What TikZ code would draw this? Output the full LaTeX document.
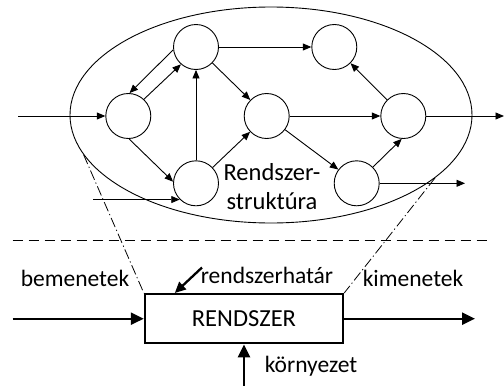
\documentclass[tikz,border=0pt]{standalone}
\usepackage{fontspec}
\setmainfont{Carlito}
\usetikzlibrary{shapes.geometric,arrows.meta,calc}
\tikzset{
  crc/.style={circle,draw,line width=0.9pt,minimum size=45pt,inner sep=0pt},
  thin arrow/.style={line width=0.9pt,-{Triangle[length=8.5pt,width=7pt]}},
  thick arrow/.style={line width=2.3pt,-{Triangle[length=13pt,width=12pt]}},
  lbl/.style={font=\fontsize{23.5}{30}\selectfont,inner sep=0pt,text=black},
  dashdot/.style={line width=0.8pt,dash pattern=on 10pt off 3pt on 1.2pt off 3pt},
}
\begin{document}
\begin{tikzpicture}[x=1pt,y=-1pt]
\useasboundingbox (0,0) rectangle (504,386);
% system structure
\node[ellipse,draw,line width=0.9pt,minimum width=402pt,minimum height=216pt,inner sep=0pt] (ell) at (271,115) {};
\node[crc] (A) at (128.3,116) {};
\node[crc] (B) at (196,47) {};
\node[crc] (C) at (196,183.3) {};
\node[crc] (D) at (266.7,116) {};
\node[crc] (E) at (334.3,47) {};
\node[crc] (F) at (403.3,116) {};
\node[crc] (G) at (356.7,183.3) {};
\node[lbl,align=center,font=\fontsize{24.5}{29}\selectfont] (struct) at (272,187) {Rendszer-\\struktúra};
\coordinate (in0) at (18,116);
\coordinate (out0) at (504,116);
\coordinate (cin) at (93,200);
\coordinate (gout) at (465,184);
\draw[thin arrow] (in0) -- (A.west);
\draw[thin arrow] (F.east) -- (out0);
\draw[thin arrow] (cin |- C.225) -- (C.225);
\draw[thin arrow] (G.east) -- (gout |- G.east);
\draw[thin arrow] (B.187) -- (A.87);
\draw[thin arrow] (A.47) -- (B.229);
\draw[thin arrow] (A.272.6) -- (C.176);
\draw[thin arrow] (C) -- (B);
\draw[thin arrow] (C) -- (D);
\draw[thin arrow] (B) -- (D);
\draw[thin arrow] (B.east) -- (E.west);
\draw[thin arrow] (D.east) -- (F.west);
\draw[thin arrow] (D) -- (G);
\draw[thin arrow] (G.45) -- (F.266);
\draw[thin arrow] (F) -- (E);
% boundary line
\coordinate (dl) at (12.7,240.7);
\coordinate (dr) at (492,240.7);
\draw[line width=0.8pt,dash pattern=on 10pt off 6pt] (dl) -- (dr);
% system box
\node[draw,line width=2.4pt,minimum width=198pt,minimum height=49pt,inner sep=0pt,font=\fontsize{24.5}{30}\selectfont,text=black] (box) at (244,318.7) {RENDSZER};
\draw[dashdot] (ell.192.8) -- (box.north west);
\draw[dashdot] (ell.339.5) -- (box.north east);
\coordinate (inL) at (12.7,318.7);
\coordinate (outR) at (475,318.7);
\coordinate (env) at (244,386);
\coordinate (rh) at (202,267.5);
\draw[thick arrow] (inL) -- (box.west);
\draw[thick arrow] (box.east) -- (outR);
\draw[thick arrow] (env) -- (box.south);
\draw[line width=2.3pt,-{Triangle[length=11pt,width=10pt]}] (rh) -- ([xshift=31pt]box.north west);
\node[lbl] (bem) at (75,278) {bemenetek};
\node[lbl] (rhat) at (267,275) {rendszerhatár};
\node[lbl] (kim) at (413,278) {kimenetek};
\node[lbl] (korny) at (311,366) {környezet};
\end{tikzpicture}
\end{document}
